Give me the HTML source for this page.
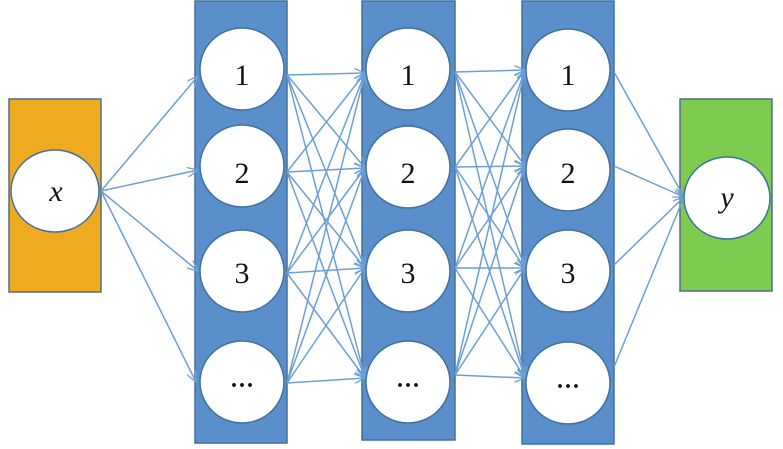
<!DOCTYPE html>
<html><head><style>body{margin:0;background:#fff}svg{display:block}</style></head><body>
<svg width="783" height="449" viewBox="0 0 783 449" xmlns="http://www.w3.org/2000/svg">
<defs><marker id="a" markerWidth="12" markerHeight="10" refX="11" refY="5" orient="auto" markerUnits="userSpaceOnUse"><path d="M0,0 L11,5 L0,10" fill="none" stroke="#6b9fd6" stroke-width="1.3"/></marker></defs>
<rect x="9" y="99" width="92" height="193" fill="#efab20" stroke="#4f6d8c" stroke-width="1.5"/>
<rect x="195" y="1" width="92" height="442" fill="#5a8fcb" stroke="#41719c" stroke-width="1.5"/>
<rect x="362" y="1" width="93" height="439" fill="#5a8fcb" stroke="#41719c" stroke-width="1.5"/>
<rect x="522" y="1" width="92" height="443" fill="#5a8fcb" stroke="#41719c" stroke-width="1.5"/>
<rect x="680" y="99" width="92" height="192" fill="#7dcb4f" stroke="#4f6d8c" stroke-width="1.5"/>
<g stroke="#6b9fd6" stroke-width="1.5" fill="none" marker-end="url(#a)">
<line x1="101" y1="191" x2="198" y2="76"/><line x1="101" y1="191" x2="198" y2="170"/><line x1="101" y1="191" x2="198" y2="271"/><line x1="101" y1="191" x2="196" y2="382"/>
<line x1="287" y1="75" x2="365" y2="73"/><line x1="287" y1="75" x2="365" y2="168"/><line x1="287" y1="75" x2="365" y2="268"/><line x1="287" y1="75" x2="365" y2="378"/>
<line x1="287" y1="172" x2="365" y2="73"/><line x1="287" y1="172" x2="365" y2="168"/><line x1="287" y1="172" x2="365" y2="268"/><line x1="287" y1="172" x2="365" y2="378"/>
<line x1="287" y1="273" x2="365" y2="73"/><line x1="287" y1="273" x2="365" y2="168"/><line x1="287" y1="273" x2="365" y2="268"/><line x1="287" y1="273" x2="365" y2="378"/>
<line x1="287" y1="383" x2="365" y2="73"/><line x1="287" y1="383" x2="365" y2="168"/><line x1="287" y1="383" x2="365" y2="268"/><line x1="287" y1="383" x2="365" y2="378"/>
<line x1="455" y1="72" x2="525" y2="70"/><line x1="455" y1="72" x2="525" y2="166"/><line x1="455" y1="72" x2="525" y2="268"/><line x1="455" y1="72" x2="525" y2="378"/>
<line x1="455" y1="167" x2="525" y2="70"/><line x1="455" y1="167" x2="525" y2="166"/><line x1="455" y1="167" x2="525" y2="268"/><line x1="455" y1="167" x2="525" y2="378"/>
<line x1="455" y1="268" x2="525" y2="70"/><line x1="455" y1="268" x2="525" y2="166"/><line x1="455" y1="268" x2="525" y2="268"/><line x1="455" y1="268" x2="525" y2="378"/>
<line x1="455" y1="375" x2="525" y2="70"/><line x1="455" y1="375" x2="525" y2="166"/><line x1="455" y1="375" x2="525" y2="268"/><line x1="455" y1="375" x2="525" y2="378"/>
<line x1="614" y1="72" x2="684" y2="197"/><line x1="614" y1="166" x2="684" y2="197"/><line x1="614" y1="265" x2="684" y2="197"/><line x1="614" y1="367" x2="684" y2="197"/>
</g>
<g fill="#fff" stroke="#41719c" stroke-width="1.5">
<ellipse cx="55" cy="191" rx="44" ry="41"/>
<ellipse cx="242" cy="69" rx="42" ry="41"/><ellipse cx="242" cy="166" rx="42" ry="41"/><ellipse cx="242" cy="271" rx="42" ry="41"/><ellipse cx="242" cy="382" rx="42" ry="41"/>
<ellipse cx="408" cy="69" rx="42" ry="41"/><ellipse cx="408" cy="167" rx="42" ry="41"/><ellipse cx="408" cy="271" rx="42" ry="41"/><ellipse cx="408" cy="382" rx="42" ry="41"/>
<ellipse cx="568" cy="70" rx="42" ry="41"/><ellipse cx="568" cy="170" rx="42" ry="41"/><ellipse cx="568" cy="271" rx="42" ry="41"/><ellipse cx="568" cy="383" rx="42" ry="41"/>
<ellipse cx="727" cy="198" rx="43" ry="41"/>
</g>
<g font-family="Liberation Serif, serif" font-size="30" fill="#111" text-anchor="middle">
<text x="56" y="201" font-style="italic">x</text>
<text x="727" y="207" font-style="italic">y</text>
<text x="242" y="85">1</text><text x="242" y="183">2</text><text x="242" y="283">3</text><text x="242" y="393" font-weight="bold" font-size="24">···</text>
<text x="408" y="85">1</text><text x="408" y="183">2</text><text x="408" y="283">3</text><text x="408" y="393" font-weight="bold" font-size="24">···</text>
<text x="568" y="85">1</text><text x="568" y="183">2</text><text x="568" y="283">3</text><text x="568" y="394" font-weight="bold" font-size="24">···</text>
</g>
</svg>
</body></html>
